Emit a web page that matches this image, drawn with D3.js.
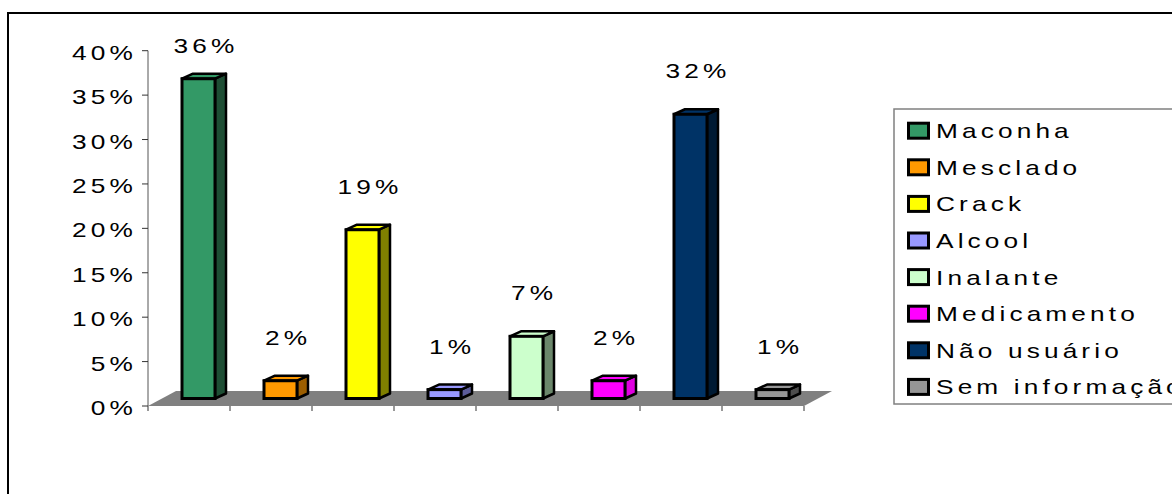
<!DOCTYPE html>
<html>
<head>
<meta charset="utf-8">
<script src="https://cdn.jsdelivr.net/npm/d3@7"></script>
<style>
  body { margin: 0; background: #fff; }
  svg text { font-family: "Liberation Sans", Arial, sans-serif; font-size: 21px; fill: #000; letter-spacing: 3.3px; }
</style>
</head>
<body>
<div id="chart"></div>
<script>
// data
const categories = ["Maconha", "Mesclado", "Crack", "Alcool", "Inalante", "Medicamento", "Não usuário", "Sem informação"];
const values = [36, 2, 19, 1, 7, 2, 32, 1];
const frontColors = ["#339966", "#ff9900", "#ffff00", "#9999ff", "#ccffcc", "#ff00ff", "#003366", "#969696"];
const sideColors = ["#1e4e34", "#9c5e00", "#808000", "#5c5c99", "#6b876b", "#e000e0", "#001a33", "#4d4d4d"];
const yTicks = [0, 5, 10, 15, 20, 25, 30, 35, 40];

const W = 1172, H = 494;
const stretch = 1.25; // the original type is set wide
const svg = d3.select("#chart").append("svg").attr("width", W).attr("height", H);

// wide text: a group that scales the text horizontally around its anchor
function wideText(sel, fx, fy, anchor) {
  return sel
    .append("g")
    .attr("transform", (d, i) => `translate(${fx(d, i)},${fy(d, i)}) scale(${stretch},1)`)
    .append("text")
    .attr("text-anchor", anchor);
}

// chart frame (runs off the right and bottom edges)
svg.append("rect")
  .attr("x", 8).attr("y", 13)
  .attr("width", 1200).attr("height", 520)
  .attr("fill", "#fff").attr("stroke", "#000").attr("stroke-width", 2);

// front plane scales
const x = d3.scaleBand().domain(categories).range([148, 804]);
const y = d3.scaleLinear().domain([0, 40]).range([406, 50.7]);

const depth = { dx: 28, dy: -15 };     // floor depth
const mid = { dx: 15, dy: -7.5 };      // bars sit half way back
const side = { dx: 11, dy: -5 };       // bar depth
const barW = 33;

const g = svg.append("g");

// floor
const x0 = x.range()[0], x1 = x.range()[1], y0 = y(0);
g.append("path")
  .attr("d", `M${x0},${y0}L${x1},${y0}L${x1 + depth.dx},${y0 + depth.dy}L${x0 + depth.dx},${y0 + depth.dy}Z`)
  .attr("fill", "#808080");

// value axis
g.append("line")
  .attr("x1", x0).attr("x2", x0)
  .attr("y1", y(40)).attr("y2", y0)
  .attr("stroke", "#555").attr("stroke-width", 1);

g.selectAll(".ytick")
  .data(yTicks)
  .enter()
  .append("line")
  .attr("x1", x0 - 6).attr("x2", x0)
  .attr("y1", (d) => y(d)).attr("y2", (d) => y(d))
  .attr("stroke", "#333");

wideText(g.selectAll(".ylabel").data(yTicks).enter(), () => x0 - 11, (d) => y(d) + 9, "end")
  .text((d) => d + "%");

// category ticks along the front edge of the floor
const edges = categories.map((c) => x(c)).concat([x1]);
g.selectAll(".xtick")
  .data(edges)
  .enter()
  .append("line")
  .attr("x1", (d) => d).attr("x2", (d) => d)
  .attr("y1", y0).attr("y2", y0 + 5)
  .attr("stroke", "#333");

// bars
const bars = categories.map((c, i) => {
  const cx = x(c) + x.bandwidth() / 2 + mid.dx;
  const left = cx - (barW + side.dx) / 2;
  return {
    name: c,
    value: values[i],
    left: left,
    right: left + barW,
    top: y(values[i]) + mid.dy,
    base: y0 + mid.dy,
    front: frontColors[i],
    side: sideColors[i],
  };
});

const bg = g.selectAll(".bar").data(bars).enter().append("g").attr("class", "bar");

bg.append("path")
  .attr("d", (d) => `M${d.right},${d.base}L${d.right + side.dx},${d.base + side.dy}L${d.right + side.dx},${d.top + side.dy}L${d.right},${d.top}Z`)
  .attr("fill", (d) => d.side)
  .attr("stroke", "#000").attr("stroke-width", 2.5).attr("stroke-linejoin", "round");

bg.append("path")
  .attr("d", (d) => `M${d.left},${d.top}L${d.left + side.dx},${d.top + side.dy}L${d.right + side.dx},${d.top + side.dy}L${d.right},${d.top}Z`)
  .attr("fill", (d) => d.front)
  .attr("stroke", "#000").attr("stroke-width", 2.5).attr("stroke-linejoin", "round");

bg.append("rect")
  .attr("x", (d) => d.left).attr("y", (d) => d.top)
  .attr("width", barW).attr("height", (d) => d.base - d.top)
  .attr("fill", (d) => d.front)
  .attr("stroke", "#000").attr("stroke-width", 3);

// value labels
wideText(bg, (d) => d.left + (barW + side.dx) / 2 + 2, (d) => Math.max(d.top - 36, y(40) + 2), "middle")
  .text((d) => d.value + "%");

// legend (its right side runs off the page, as in the original)
const legend = svg.append("g").attr("transform", "translate(894,109)");
legend.append("rect")
  .attr("x", 0).attr("y", 0)
  .attr("width", 400).attr("height", 295)
  .attr("fill", "#fff").attr("stroke", "#808080").attr("stroke-width", 1.5);

const item = legend.selectAll(".item")
  .data(categories)
  .enter()
  .append("g")
  .attr("transform", (d, i) => `translate(0,${21.7 + i * 36.6})`);

item.append("rect")
  .attr("x", 14.5).attr("y", -7.5)
  .attr("width", 20).attr("height", 15)
  .attr("fill", (d, i) => frontColors[i])
  .attr("stroke", "#000").attr("stroke-width", 3);

wideText(item, () => 42, () => 7.5, "start")
  .text((d) => d);
</script>
</body>
</html>
